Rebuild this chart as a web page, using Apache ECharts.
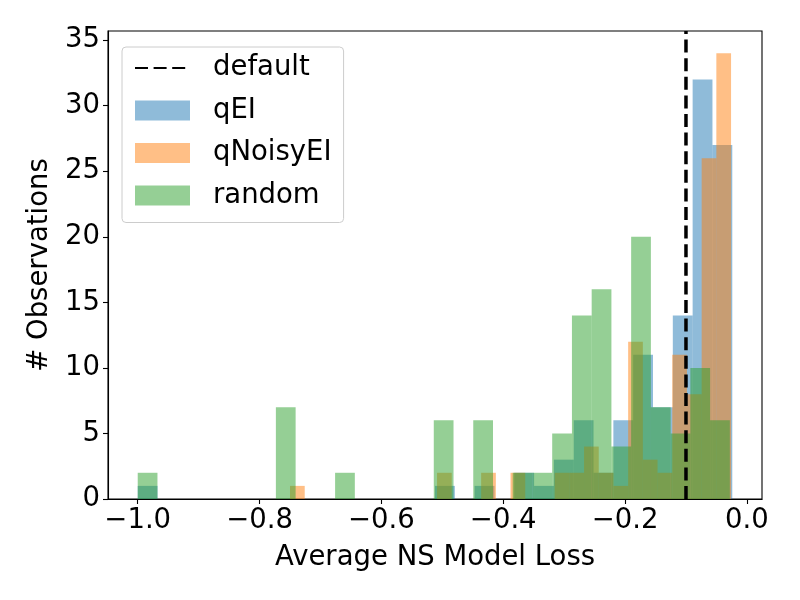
<!DOCTYPE html>
<html>
<head>
<meta charset="utf-8">
<script src="https://cdn.jsdelivr.net/npm/echarts@6/dist/echarts.min.js"></script>
<style>
  html, body { margin: 0; padding: 0; background: #fff; }
  #chart { width: 800px; height: 600px; }
</style>
</head>
<body>
<div id="chart"></div>
<script>
// histogram counts, 30 bins per method (each method binned over its own range)
var qEICounts = [1, 0, 0, 0, 0, 0, 0, 0, 0, 0, 0, 0, 0, 0, 0, 1, 0, 1, 0, 2, 1, 3, 6, 2, 6, 11, 7, 14, 32, 27];
var qNoisyEICounts = [1, 0, 0, 0, 0, 0, 0, 0, 0, 0, 2, 0, 0, 2, 0, 2, 0, 0, 2, 2, 4, 2, 1, 12, 3, 2, 11, 8, 26, 34];
var randomCounts = [2, 0, 0, 0, 0, 0, 0, 7, 0, 0, 2, 0, 0, 0, 0, 6, 0, 6, 0, 2, 2, 5, 14, 16, 4, 20, 7, 5, 10, 6];

// bin ranges (min / max loss of each method)
var qEIRange = [-1.0, -0.024];
var qNoisyEIRange = [-0.75, -0.026];
var randomRange = [-1.0, -0.028];

var defaultLoss = -0.1;

var xTicks = [-1.0, -0.8, -0.6, -0.4, -0.2, 0.0];
var yTicks = [0, 5, 10, 15, 20, 25, 30, 35];
var xMin = -1.0488, xMax = 0.0248;
var yMin = 0, yMax = 35.7;

var FONT = 'DejaVu Sans';
var FS = 27.5;

function bins(counts, range) {
    var w = (range[1] - range[0]) / counts.length;
    return counts.map(function (c, i) {
        return [range[0] + i * w, range[0] + (i + 1) * w, c];
    });
}

function renderBar(params, api) {
    var p0 = api.coord([api.value(0), 0]);
    var p1 = api.coord([api.value(1), api.value(2)]);
    return {
        type: 'rect',
        shape: { x: p0[0], y: p1[1], width: p1[0] - p0[0], height: p0[1] - p1[1] },
        style: { fill: api.visual('color') }
    };
}

function histSeries(name, counts, range, color) {
    return {
        name: name,
        type: 'custom',
        renderItem: renderBar,
        itemStyle: { color: color },
        encode: { x: [0, 1], y: 2 },
        data: bins(counts, range),
        silent: true
    };
}

function fmt(v) {
    return (v < 0 ? '\u2212' : '') + Math.abs(v).toFixed(1);
}

var myChart = echarts.init(document.getElementById('chart'));
myChart.setOption({
    animation: false,
    textStyle: { fontFamily: FONT },
    grid: {
        left: 108, top: 31, width: 654, height: 468,
        show: true, borderColor: '#000', borderWidth: 1.1
    },
    legend: {
        orient: 'vertical',
        left: 122, top: 47,
        padding: [7, 12, 13, 12],
        itemWidth: 55, itemHeight: 20, itemGap: 14.5,
        backgroundColor: 'rgba(255,255,255,0.8)',
        borderColor: '#cccccc', borderWidth: 1, borderRadius: 4,
        textStyle: { fontFamily: FONT, fontSize: FS, color: '#000', padding: [0, 0, 0, 18] },
        data: [
            { name: 'default', itemStyle: { opacity: 0 } },
            { name: 'qEI', icon: 'rect' },
            { name: 'qNoisyEI', icon: 'rect' },
            { name: 'random', icon: 'rect' }
        ]
    },
    xAxis: {
        type: 'value',
        min: xMin, max: xMax,
        name: 'Average NS Model Loss',
        nameLocation: 'middle', nameGap: 45,
        nameTextStyle: { fontFamily: FONT, fontSize: FS, color: '#000' },
        axisLine: { show: true, onZero: false, lineStyle: { color: '#000', width: 1.1 } },
        axisTick: { show: true, length: 5, customValues: xTicks, lineStyle: { color: '#000', width: 1.1 } },
        axisLabel: { customValues: xTicks, formatter: fmt, fontFamily: FONT, fontSize: FS, color: '#000', margin: 8 },
        splitLine: { show: false }
    },
    yAxis: {
        type: 'value',
        min: yMin, max: yMax,
        name: '# Observations',
        nameLocation: 'middle', nameGap: 52,
        nameTextStyle: { fontFamily: FONT, fontSize: FS, color: '#000' },
        axisLine: { show: true, onZero: false, lineStyle: { color: '#000', width: 1.1 } },
        axisTick: { show: true, length: 5, customValues: yTicks, lineStyle: { color: '#000', width: 1.1 } },
        axisLabel: { customValues: yTicks, fontFamily: FONT, fontSize: FS, color: '#000', margin: 8 },
        splitLine: { show: false }
    },
    series: [
        {
            name: 'default',
            type: 'line',
            symbol: 'none',
            z: 10,
            silent: true,
            lineStyle: { color: '#000', width: 3.5, type: [13, 5.6] },
            itemStyle: { color: '#000' },
            data: [[defaultLoss, yMin], [defaultLoss, yMax]]
        },
        histSeries('qEI', qEICounts, qEIRange, 'rgba(31,119,180,0.5)'),
        histSeries('qNoisyEI', qNoisyEICounts, qNoisyEIRange, 'rgba(255,127,14,0.5)'),
        histSeries('random', randomCounts, randomRange, 'rgba(44,160,44,0.5)')
    ]
});
</script>
</body>
</html>
